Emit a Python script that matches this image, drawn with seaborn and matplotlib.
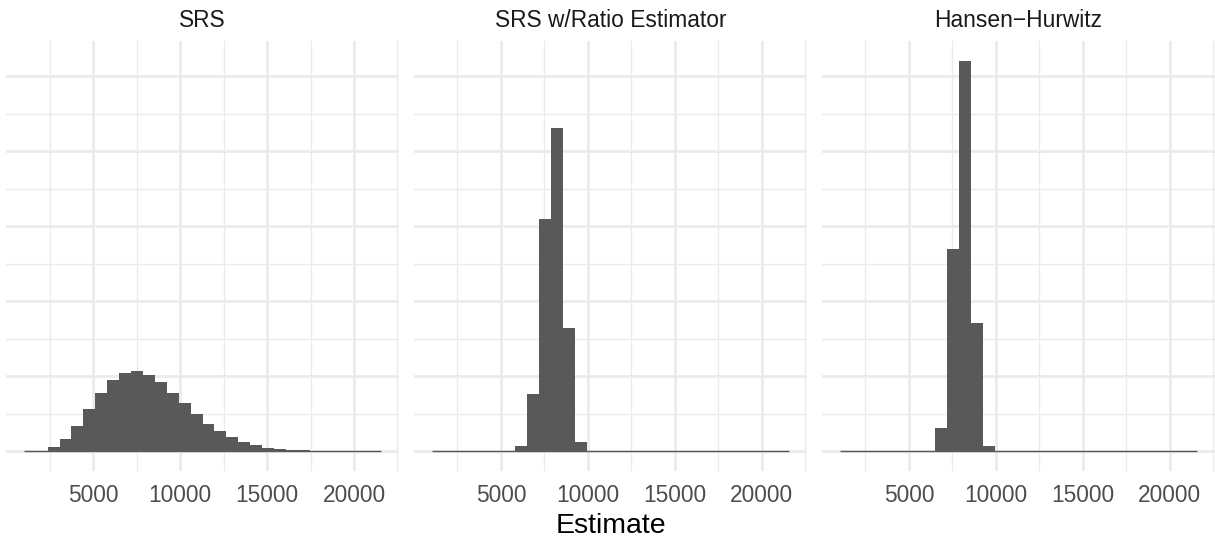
import numpy as np
import pandas as pd
import matplotlib
matplotlib.use("Agg")
import matplotlib.pyplot as plt
import seaborn as sns

# --- Data: histogram bin counts (10,000 simulated estimates per estimator) ---
bin_edges = [1020, 1705, 2390, 3075, 3760, 4445, 5130, 5815, 6500, 7185,
             7870, 8555, 9240, 9925, 10610, 11295, 11980, 12665, 13350, 14035,
             14720, 15405, 16090, 16775, 17460, 18145, 18830, 19515, 20200,
             20885, 21570]

estimators = ["SRS", "SRS w/Ratio Estimator", "Hansen\u2212Hurwitz"]

srs_counts = [1, 4, 53, 160, 333, 564, 773, 947, 1040, 1067,
              1013, 920, 773, 640, 493, 360, 267, 187, 120, 80,
              44, 27, 13, 7, 4, 2, 1, 1, 0, 1]
ratio_counts = [0, 0, 0, 0, 0, 0, 0, 67, 764, 3093,
                4307, 1640, 120, 0, 0, 0, 0, 0, 0, 0,
                0, 0, 0, 0, 0, 0, 0, 0, 0, 0]
hh_counts = [0, 0, 0, 0, 0, 0, 0, 0, 311, 2693,
             5213, 1707, 67, 0, 0, 0, 0, 0, 0, 0,
             0, 0, 0, 0, 0, 0, 0, 0, 0, 0]

x_major = [5000, 10000, 15000, 20000]
x_minor = [2500, 7500, 12500, 17500, 22500]
y_major = [0, 1000, 2000, 3000, 4000, 5000]
y_minor = [500, 1500, 2500, 3500, 4500]

# long-form table for seaborn
edges = np.array(bin_edges)
centers = (edges[:-1] + edges[1:]) / 2
df = pd.concat([
    pd.DataFrame({"Estimator": name, "Estimate": centers, "n": counts})
    for name, counts in zip(estimators, [srs_counts, ratio_counts, hh_counts])
])

# --- Figure ---
sns.set_theme(style="white")
plt.rcParams["font.family"] = ["Liberation Sans", "DejaVu Sans"]

fig, axes = plt.subplots(1, 3, figsize=(12.15, 5.44), dpi=100,
                         sharex=True, sharey=True)
fig.subplots_adjust(left=0.0049, right=1.0, bottom=0.1351, top=0.9246,
                    wspace=0.0373)

grid_col = "#EBEBEB"
bar_col = "#595959"
span = edges[-1] - edges[0]
ymax = max(max(srs_counts), max(ratio_counts), max(hh_counts))

for ax, name in zip(axes, estimators):
    sub = df[df["Estimator"] == name]
    sns.histplot(data=sub, x="Estimate", weights="n", bins=bin_edges, ax=ax,
                 color=bar_col, alpha=1, linewidth=0, edgecolor=None)
    # zero-count bars show up as a thin baseline in the original
    ax.hlines(0, edges[0], edges[-1], color=bar_col, lw=1.0, zorder=3)

    ax.set_xlim(edges[0] - 0.05 * span, edges[-1] + 0.05 * span)
    ax.set_ylim(-0.05 * ymax, 1.05 * ymax)

    ax.set_xticks(x_major)
    ax.set_xticks(x_minor, minor=True)
    ax.set_yticks(y_major)
    ax.set_yticks(y_minor, minor=True)
    ax.set_xticklabels([str(v) for v in x_major])
    ax.tick_params(axis="y", which="both", left=False, labelleft=False)
    ax.tick_params(axis="x", which="both", length=0, pad=10,
                   labelsize=16.4, labelcolor="#4D4D4D")

    ax.grid(which="major", color=grid_col, lw=2.0)
    ax.grid(which="minor", color=grid_col, lw=1.0)
    ax.set_axisbelow(True)
    for s in ax.spines.values():
        s.set_visible(False)

    ax.set_title(name, fontsize=16.4, color="#1A1A1A", pad=10)
    ax.set_xlabel("")
    ax.set_ylabel("")

axes[1].set_xlabel("Estimate", fontsize=20.5, color="black", labelpad=4)

plt.savefig("out.png", dpi=100)
